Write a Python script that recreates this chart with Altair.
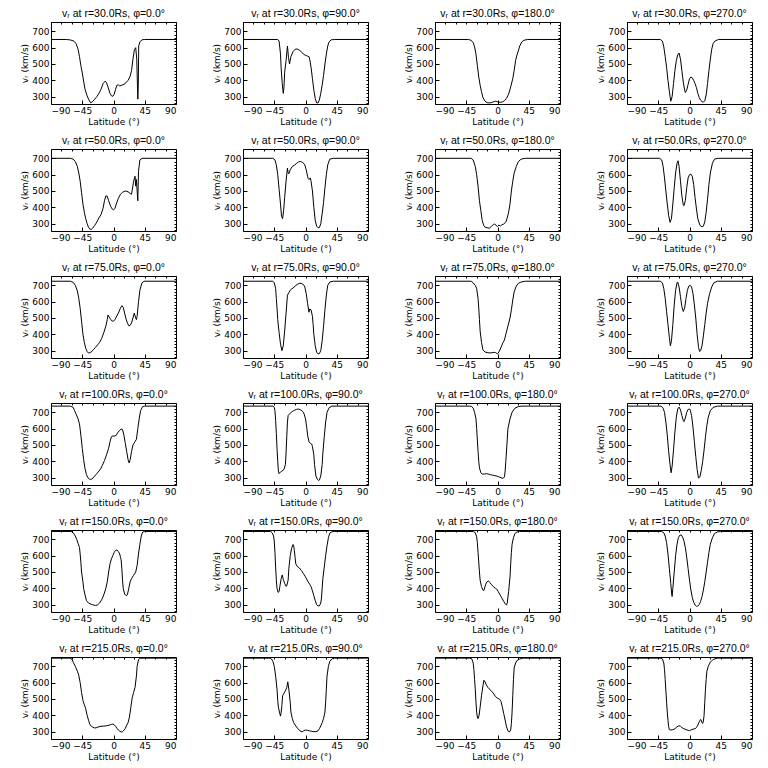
import altair as alt
import pandas as pd

# ---------------- data ----------------
RADII = ["30.0", "50.0", "75.0", "100.0", "150.0", "215.0"]
PHIS = ["0.0", "90.0", "180.0", "270.0"]

R30_P0_LAT = [-90, -68, -62, -57, -54, -51, -49, -47, -45, -43, -41, -38, -36, -33, -30, -27, -24, -21, -18, -15, -12, -10, -8, -5, -3, -1, 1, 3, 5, 7, 9, 12, 15, 18, 21, 24, 26, 28, 30, 32, 33.5, 35, 35.7, 36.3, 38, 41, 45, 90]
R30_P0_V = [650, 650, 647, 640, 625, 590, 545, 490, 445, 395, 345, 305, 285, 262, 270, 285, 300, 320, 345, 380, 395, 385, 360, 320, 305, 302, 315, 345, 370, 372, 366, 370, 375, 385, 400, 425, 460, 530, 585, 600, 530, 285, 370, 610, 635, 648, 650, 650]

R30_P90_LAT = [-90, -40, -38, -36, -35, -33.5, -32, -31, -30, -28, -26, -24.5, -23, -21, -18, -15, -12, -9, -6, -3, 0, 3, 5, 6, 8, 10, 12, 14, 16, 18, 20, 22, 24, 26, 28, 30, 32, 34, 37, 42, 90]
R30_P90_V = [650, 650, 640, 560, 470, 380, 320, 360, 450, 520, 610, 540, 500, 545, 575, 590, 592, 585, 575, 560, 553, 548, 545, 530, 480, 410, 340, 290, 262, 262, 280, 320, 370, 430, 500, 560, 610, 635, 648, 650, 650]

R30_P180_LAT = [-90, -42, -38, -35, -33, -31, -29, -27, -25, -23, -21, -18, -15, -12, -9, -6, -3, -1, 1, 4, 7, 10, 13, 16, 19, 22, 24, 26, 28, 30, 32, 35, 38, 43, 90]
R30_P180_V = [650, 650, 645, 630, 605, 560, 490, 420, 370, 330, 295, 272, 263, 262, 263, 268, 272, 270, 266, 266, 267, 275, 290, 315, 360, 410, 460, 520, 555, 580, 610, 635, 645, 650, 650]

R30_P270_LAT = [-90, -42, -39, -37, -35, -33, -31, -29, -27, -25, -23, -21, -19, -17, -15, -13, -11, -9, -7, -6, -4, -2, 0, 2, 4, 6, 8, 10, 12, 14, 16, 18, 20, 22, 24, 26, 28, 30, 32, 34, 37, 42, 90]
R30_P270_V = [650, 650, 640, 605, 545, 480, 400, 330, 272, 300, 380, 460, 520, 555, 567, 530, 460, 390, 340, 325, 340, 375, 410, 420, 415, 400, 380, 355, 320, 295, 278, 270, 266, 275, 310, 380, 460, 530, 590, 625, 642, 650, 650]

R50_P0_LAT = [-90, -62, -58, -55, -52, -50, -48, -46, -44, -42, -40, -38, -36, -34, -32, -30, -27, -24, -21, -18, -15, -13, -11, -9, -7, -4, -2, 0, 2, 4, 7, 10, 13, 17, 21, 24, 26, 29, 31, 32, 33, 35, 36, 38, 41, 90]
R50_P0_V = [700, 700, 695, 680, 650, 610, 560, 490, 420, 370, 330, 300, 278, 266, 265, 272, 290, 310, 335, 355, 395, 440, 470, 468, 440, 405, 390, 385, 392, 420, 455, 480, 492, 500, 495, 485, 480, 560, 590, 530, 570, 440, 620, 690, 700, 700]

R50_P90_LAT = [-90, -47, -44, -42, -40, -38, -36, -34.5, -33, -31.5, -30, -28, -26, -25, -24, -22, -19, -16, -13, -10, -7, -4, -1, 1, 3, 4, 5, 7, 8, 10, 12, 14, 16, 18, 20, 22, 24, 26, 28, 30, 32, 35, 40, 90]
R50_P90_V = [700, 700, 690, 660, 600, 510, 420, 345, 330, 380, 460, 560, 640, 610, 605, 630, 650, 658, 668, 678, 680, 675, 660, 630, 590, 575, 570, 580, 560, 500, 400, 320, 285, 275, 276, 300, 360, 430, 520, 600, 660, 695, 700, 700]

R50_P180_LAT = [-90, -38, -35, -32, -30, -28, -26, -24, -22, -20, -18, -15, -12, -9, -6, -4, -2, 0, 2, 4, 6, 9, 12, 14, 16, 18, 20, 22, 24, 27, 30, 34, 40, 90]
R50_P180_V = [700, 700, 690, 650, 600, 530, 440, 380, 320, 290, 278, 275, 272, 282, 295, 297, 290, 282, 292, 285, 292, 298, 310, 335, 370, 420, 500, 560, 610, 650, 680, 695, 700, 700]

R50_P270_LAT = [-90, -43, -40, -38, -36, -34, -32, -30, -28, -26, -24, -22, -20, -18, -16.5, -15, -13, -11, -9, -8, -6, -4, -2, 0, 2, 4, 6, 8, 10, 12, 15, 18, 20, 22, 24, 26, 28, 30, 33, 36, 41, 90]
R50_P270_V = [700, 700, 690, 650, 580, 500, 420, 350, 308, 330, 420, 520, 610, 670, 685, 650, 560, 470, 415, 410, 440, 520, 580, 600, 603, 590, 540, 460, 390, 330, 290, 280, 285, 310, 370, 450, 540, 610, 670, 695, 700, 700]

R75_P0_LAT = [-90, -62, -58, -55, -52, -50, -48, -46, -44, -42, -40, -38, -36, -34, -32, -29, -26, -23, -20, -17, -14, -11, -9, -8, -6, -4, -2, 0, 2, 4, 7, 10, 12, 14, 16, 18, 20, 22, 24, 26, 28, 30, 31.5, 33, 34, 36, 38, 41, 44, 90]
R75_P0_V = [725, 725, 718, 700, 665, 620, 560, 480, 400, 350, 315, 295, 285, 288, 292, 305, 320, 335, 350, 375, 410, 450, 490, 518, 505, 490, 482, 480, 490, 505, 530, 560, 575, 565, 530, 495, 470, 452, 455, 470, 500, 530, 505, 490, 510, 600, 670, 715, 725, 725]

R75_P90_LAT = [-90, -47, -45, -43, -42, -41, -40, -38, -36, -34, -32, -30, -28, -26, -24, -22, -20, -18, -15, -12, -9, -6, -3, -1, 1, 3, 5, 6, 8, 10, 11, 12, 14, 16, 18, 20, 22, 24, 26, 28, 30, 32, 35, 40, 90]
R75_P90_V = [725, 725, 715, 680, 620, 560, 490, 410, 340, 300, 330, 420, 530, 640, 655, 670, 678, 683, 695, 705, 712, 712, 705, 690, 650, 590, 535, 555, 550, 510, 460, 400, 330, 290, 280, 282, 300, 360, 450, 550, 640, 700, 720, 725, 725]

R75_P180_LAT = [-90, -38, -35, -32, -30, -28, -27, -26, -25, -23, -21, -18, -15, -11, -8, -5, -3, -1, 0, 2, 4, 6, 8, 10, 12, 15, 18, 20, 22, 24, 27, 30, 34, 40, 90]
R75_P180_V = [725, 725, 715, 700, 680, 620, 560, 490, 420, 350, 305, 292, 288, 286, 287, 290, 288, 283, 280, 292, 310, 330, 350, 365, 400, 450, 500, 550, 610, 660, 695, 712, 720, 725, 725]

R75_P270_LAT = [-90, -42, -39, -37, -35, -33, -31, -29, -27.5, -26, -24, -22, -20, -18, -17, -15, -13, -11, -9, -7, -5, -3, -1, 1, 3, 5, 7, 9, 11, 13, 14.5, 16, 18, 20, 22, 24, 26, 29, 32, 35, 40, 90]
R75_P270_V = [725, 725, 715, 680, 620, 540, 460, 380, 330, 360, 460, 580, 670, 715, 720, 690, 630, 570, 540, 560, 620, 670, 695, 700, 690, 650, 580, 500, 400, 320, 295, 300, 330, 390, 460, 530, 590, 650, 690, 715, 725, 725]

R100_P0_LAT = [-90, -62, -58, -56, -54, -51, -49, -47, -45, -43, -41, -39, -37, -35, -33, -31, -28, -25, -22, -19, -16, -13, -10, -7, -5, -3, -1, 2, 4, 6, 9, 11, 13, 15, 17, 19, 21, 22.5, 24, 26, 28, 31, 33, 35, 37, 39, 42, 45, 90]
R100_P0_V = [738, 738, 730, 710, 690, 660, 630, 560, 480, 410, 355, 320, 300, 292, 288, 292, 305, 320, 335, 350, 375, 405, 440, 480, 520, 550, 555, 555, 560, 575, 590, 598, 595, 560, 510, 460, 410, 390, 410, 460, 500, 520, 535, 600, 660, 710, 735, 738, 738]

R100_P90_LAT = [-90, -47, -45, -44, -43, -42, -41, -40, -39, -38, -36, -34, -31, -29, -28, -27, -26, -25, -22, -19, -16, -13, -10, -7, -4, -2, 0, 2, 3, 5, 7, 9, 10, 12, 13, 15, 17, 19, 20, 22, 24, 25, 27, 29, 31, 34, 38, 90]
R100_P90_V = [738, 738, 730, 710, 650, 570, 480, 400, 340, 325, 335, 340, 350, 380, 450, 550, 640, 680, 695, 705, 712, 718, 720, 715, 705, 690, 660, 600, 560, 520, 510, 505, 490, 440, 380, 310, 290, 283, 285, 310, 380, 450, 550, 640, 700, 728, 738, 738]

R100_P180_LAT = [-90, -40, -37, -35, -33, -31, -30, -29, -28, -27, -26, -24, -22, -19, -16, -13, -10, -7, -4, -1, 2, 5, 8, 10, 11, 12, 13.5, 15, 18, 21, 25, 30, 35, 90]
R100_P180_V = [738, 738, 735, 725, 700, 660, 600, 530, 460, 400, 360, 330, 322, 322, 324, 322, 318, 315, 312, 310, 305, 300, 295, 305, 340, 400, 500, 600, 660, 700, 725, 735, 738, 738]

R100_P270_LAT = [-90, -41, -38, -36, -34, -32, -30, -28, -26.5, -25, -23, -21, -19, -17, -15, -13, -11, -9, -8, -6, -4, -2, 0, 1, 3, 5, 7, 9, 11, 13, 15, 17, 19, 21, 23, 25, 27, 30, 34, 40, 90]
R100_P270_V = [738, 738, 725, 700, 640, 560, 460, 380, 330, 370, 470, 580, 670, 720, 732, 715, 680, 650, 643, 665, 700, 718, 720, 715, 680, 610, 520, 430, 350, 298, 305, 345, 400, 470, 550, 620, 670, 710, 730, 738, 738]

R150_P0_LAT = [-90, -61, -58, -55, -53, -51, -49, -48, -47, -46, -44, -43, -41, -39, -36, -32, -29, -26, -23, -20, -17, -14, -11, -9, -7, -5, -3, -1, 1, 3, 5, 7, 9, 10, 11, 12, 13, 14, 16, 18, 20, 22, 24, 26, 29, 32, 34, 36, 38, 40, 42, 45, 90]
R150_P0_V = [748, 748, 740, 720, 700, 675, 650, 610, 560, 500, 440, 400, 360, 325, 310, 302, 298, 295, 298, 310, 330, 360, 400, 440, 500, 550, 580, 600, 620, 632, 635, 625, 610, 590, 575, 520, 450, 400, 365, 355, 360, 400, 440, 460, 480, 500, 540, 610, 670, 720, 745, 748, 748]

R150_P90_LAT = [-90, -50, -48, -46, -45, -44, -43, -42, -41, -39.5, -38, -37, -35, -33.5, -32, -30, -28, -27, -25, -24, -22, -20, -18, -17, -16, -15, -14, -12, -9, -6, -3, 0, 3, 6, 8, 10, 12, 14, 16, 18, 20, 22, 23, 24, 25, 27, 29, 31, 33, 35, 38, 42, 90]
R150_P90_V = [748, 748, 740, 720, 690, 620, 530, 450, 400, 375, 380, 410, 460, 482, 455, 430, 412, 415, 450, 520, 600, 645, 668, 660, 630, 590, 550, 535, 525, 510, 490, 470, 445, 425, 410, 385, 355, 325, 300, 292, 293, 310, 340, 400, 460, 530, 600, 660, 710, 738, 746, 748, 748]

R150_P180_LAT = [-90, -35, -32, -30, -29, -28, -27, -26, -25, -23, -21, -20, -19, -17, -15, -13, -11, -9, -6, -3, -1, 1, 3, 5, 7, 9, 11, 13, 14, 16, 18, 19, 20, 21, 23, 25, 28, 32, 90]
R150_P180_V = [748, 748, 740, 715, 680, 620, 560, 500, 450, 410, 390, 385, 395, 425, 440, 445, 435, 425, 410, 400, 395, 380, 365, 350, 335, 320, 305, 298, 310, 380, 470, 550, 620, 670, 710, 735, 745, 748, 748]

R150_P270_LAT = [-90, -40, -37, -35, -33, -31, -29, -27, -25.5, -25, -24, -22, -20, -18, -16, -14, -12, -10, -8, -6, -4, -2, 0, 2, 4, 6, 8, 10, 12, 14, 16, 18, 20, 22, 24, 26, 28, 30, 33, 36, 40, 45, 90]
R150_P270_V = [748, 748, 740, 720, 680, 610, 520, 430, 360, 350, 400, 500, 600, 670, 710, 725, 727, 715, 690, 650, 590, 520, 450, 390, 345, 315, 298, 290, 292, 300, 320, 350, 390, 440, 500, 560, 620, 670, 710, 735, 745, 748, 748]

R215_P0_LAT = [-90, -63, -60, -58, -55, -52, -50, -48, -46, -44, -42, -40, -38, -36, -34, -32, -30, -27, -24, -21, -18, -14, -10, -6, -3, -1, 1, 3, 5, 7, 9, 11, 13, 15, 17, 19, 21, 23, 25, 27, 29, 31, 33, 34, 36, 38, 90]
R215_P0_V = [750, 750, 745, 725, 700, 670, 645, 600, 540, 490, 465, 440, 400, 370, 345, 333, 328, 322, 325, 330, 333, 334, 336, 340, 345, 346, 342, 333, 320, 310, 303, 298, 300, 308, 320, 340, 355, 390, 450, 510, 540, 570, 640, 700, 740, 750, 750]

R215_P90_LAT = [-90, -51, -49, -47, -45, -43, -41, -40, -39, -37, -36, -35, -34, -33, -31, -29, -27, -25.5, -24, -22, -21, -19, -17, -14, -11, -8, -5, -3, 0, 3, 6, 9, 12, 15, 18, 20, 22, 24, 26, 28, 29, 30, 31, 33, 35, 38, 42, 90]
R215_P90_V = [750, 750, 745, 730, 700, 640, 560, 490, 450, 410, 395, 420, 460, 520, 535, 550, 570, 605, 560, 480, 420, 380, 355, 335, 318, 305, 298, 305, 310, 308, 305, 302, 300, 300, 305, 318, 335, 355, 380, 420, 480, 560, 640, 700, 730, 745, 750, 750]

R215_P180_LAT = [-90, -40, -37, -35, -34, -33, -32, -31, -30, -29, -28, -26.5, -25, -23, -21, -19.5, -18, -16, -14, -12, -9, -6, -3, 0, 3, 5, 7, 9, 11, 13, 15, 17, 19, 20, 21, 22, 23, 24, 26, 28, 32, 37, 90]
R215_P180_V = [750, 750, 745, 720, 680, 620, 560, 480, 420, 390, 380, 400, 450, 520, 580, 615, 605, 585, 572, 562, 550, 535, 515, 505, 498, 485, 450, 410, 370, 330, 305, 298, 310, 350, 420, 520, 620, 690, 720, 735, 745, 750, 750]

R215_P270_LAT = [-90, -41, -39, -37, -36, -35, -34, -33, -32, -31, -30, -29, -27, -24, -21, -18, -15, -13, -11, -8, -5, -2, 0, 2, 5, 8, 10, 12, 14, 16, 17, 18, 19, 20, 21, 22, 23, 24, 25, 27, 30, 34, 40, 90]
R215_P270_V = [750, 750, 745, 720, 680, 620, 550, 480, 420, 370, 330, 312, 310, 312, 318, 330, 336, 333, 325, 318, 312, 308, 306, 310, 315, 318, 325, 340, 360, 375, 370, 355, 350, 365, 400, 480, 560, 620, 670, 700, 725, 742, 750, 750]

SERIES = [
    [(R30_P0_LAT, R30_P0_V), (R30_P90_LAT, R30_P90_V), (R30_P180_LAT, R30_P180_V), (R30_P270_LAT, R30_P270_V)],
    [(R50_P0_LAT, R50_P0_V), (R50_P90_LAT, R50_P90_V), (R50_P180_LAT, R50_P180_V), (R50_P270_LAT, R50_P270_V)],
    [(R75_P0_LAT, R75_P0_V), (R75_P90_LAT, R75_P90_V), (R75_P180_LAT, R75_P180_V), (R75_P270_LAT, R75_P270_V)],
    [(R100_P0_LAT, R100_P0_V), (R100_P90_LAT, R100_P90_V), (R100_P180_LAT, R100_P180_V), (R100_P270_LAT, R100_P270_V)],
    [(R150_P0_LAT, R150_P0_V), (R150_P90_LAT, R150_P90_V), (R150_P180_LAT, R150_P180_V), (R150_P270_LAT, R150_P270_V)],
    [(R215_P0_LAT, R215_P0_V), (R215_P90_LAT, R215_P90_V), (R215_P180_LAT, R215_P180_V), (R215_P270_LAT, R215_P270_V)],
]

X_TICKS = [-90, -45, 0, 45, 90]
Y_TICKS = [300, 400, 500, 600, 700]
X_MINOR = [-75, -60, -30, -15, 15, 30, 60, 75]
Y_MINOR = [260, 280, 320, 340, 360, 380, 420, 440, 460, 480, 520, 540, 560, 580, 620, 640, 660, 680, 720, 740]
X_DOMAIN = [-90, 90]
Y_DOMAIN = [255, 757]

FONT = "DejaVu Sans"
TITLE_FONT = "Liberation Sans"


def panel(lat, v, r, phi):
    df = pd.DataFrame({"lat": lat, "v": v})
    xs = alt.Scale(domain=X_DOMAIN, nice=False, zero=False)
    ys = alt.Scale(domain=Y_DOMAIN, nice=False, zero=False)
    major = (
        alt.Chart(df)
        .mark_line(color="black", strokeWidth=1, clip=True)
        .encode(
            x=alt.X("lat:Q", scale=xs,
                    axis=alt.Axis(values=X_TICKS, title="Latitude (°)", orient="bottom")),
            y=alt.Y("v:Q", scale=ys,
                    axis=alt.Axis(values=Y_TICKS, title="vᵣ (km/s)", orient="left")),
            order="lat:Q",
        )
    )
    minor = (
        alt.Chart(df)
        .mark_line(opacity=0)
        .encode(
            x=alt.X("lat:Q", scale=xs,
                    axis=alt.Axis(values=X_TICKS + X_MINOR, title=None, labels=False,
                                  orient="top", tickSize=2, offset=-2)),
            y=alt.Y("v:Q", scale=ys,
                    axis=alt.Axis(values=Y_TICKS + Y_MINOR, title=None, labels=False,
                                  orient="right", tickSize=2, offset=-2)),
            order="lat:Q",
        )
    )
    return (
        alt.layer(major, minor)
        .resolve_axis(x="independent", y="independent")
        .properties(
            width=125,
            height=82,
            title=alt.TitleParams(f"vᵣ at r={r}Rs, φ={phi}°", fontSize=10.5, font=TITLE_FONT,
                                  fontWeight="normal", color="black", offset=2),
        )
    )


panels = []
for i, r in enumerate(RADII):
    for j, phi in enumerate(PHIS):
        panels.append(panel(SERIES[i][j][0], SERIES[i][j][1], r, phi))

chart = (
    alt.concat(*panels, columns=4, spacing={"row": 45, "column": 67}, bounds="flush")
    .properties(padding={"left": 12, "top": 0, "right": 0, "bottom": 0})
    .configure(background="white")
    .configure_view(stroke="black", strokeWidth=1)
    .configure_axis(
        domain=False, grid=False, ticks=True, tickColor="black", tickSize=4, tickWidth=1,
        offset=-4, labelFont=FONT, labelFontSize=9, labelColor="black", labelPadding=2,
        titleFont=FONT, titleFontSize=9, titleFontWeight="normal", titleColor="black",
        titlePadding=2,
    )
)

chart.save("out.html", embed_options={"renderer": "svg", "actions": False})
